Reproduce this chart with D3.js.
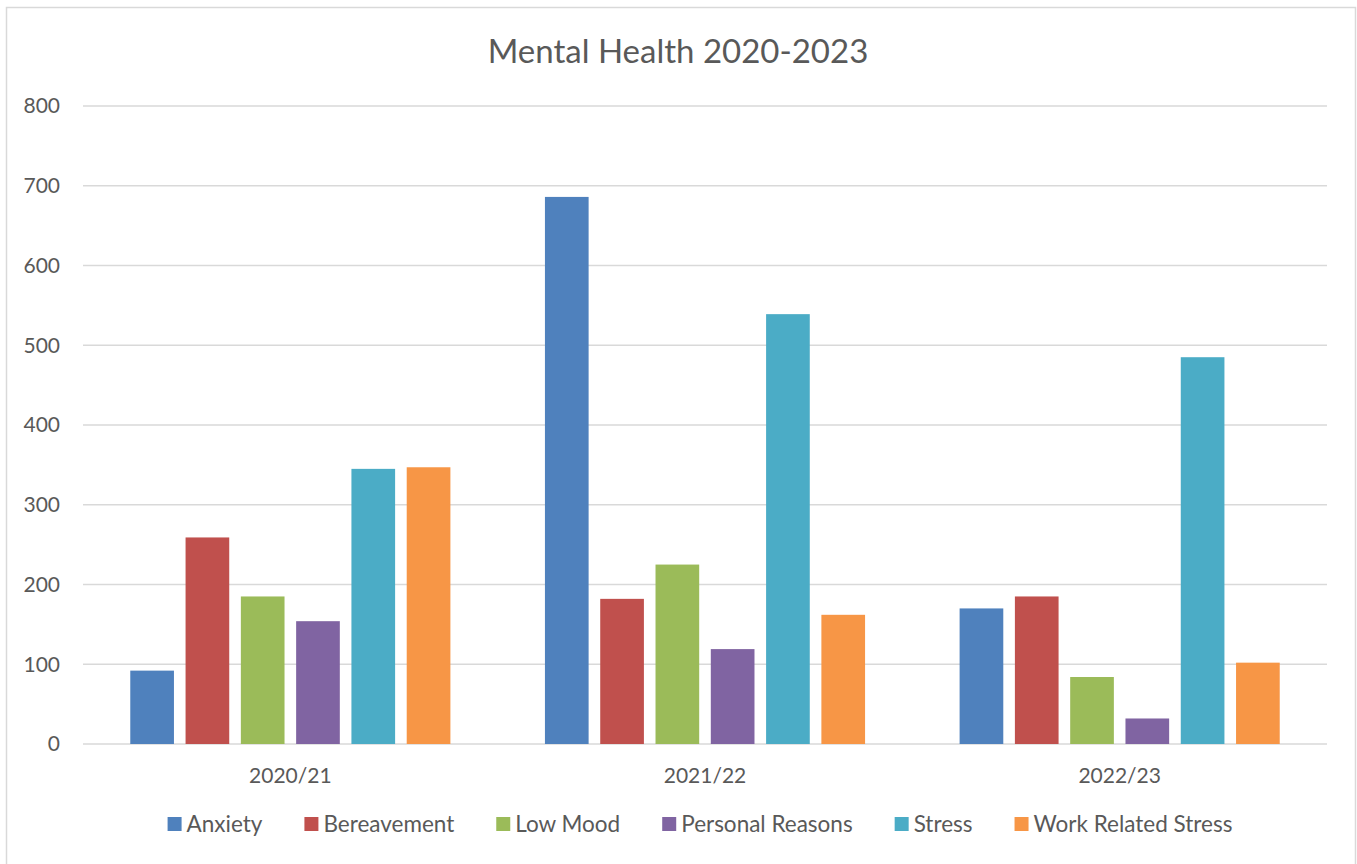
<!DOCTYPE html>
<html>
<head>
<meta charset="utf-8">
<script src="https://cdn.jsdelivr.net/npm/d3@7"></script>
<style>
  body { margin: 0; background: #fff; }
  svg { display: block; font-family: Lato, "Open Sans", sans-serif; }
</style>
</head>
<body>
<svg id="chart"></svg>
<script>
const title = "Mental Health 2020-2023";
const years = ["2020/21", "2021/22", "2022/23"];
const reasons = ["Anxiety", "Bereavement", "Low Mood", "Personal Reasons", "Stress", "Work Related Stress"];
const colours = ["#4F81BD", "#C0504D", "#9BBB59", "#8064A2", "#4BACC6", "#F79646"];
// one array per reason, in the order of years
const anxiety = [92, 686, 170];
const bereavement = [259, 182, 185];
const lowMood = [185, 225, 84];
const personalReasons = [154, 119, 32];
const stress = [345, 539, 485];
const workRelatedStress = [347, 162, 102];
const yTicks = [0, 100, 200, 300, 400, 500, 600, 700, 800];

const seriesValues = [anxiety, bereavement, lowMood, personalReasons, stress, workRelatedStress];

const width = 1357, height = 864;
const margin = { top: 106, right: 30, bottom: 120, left: 83 };
const textColour = "#595959";
const gridColour = "#D9D9D9";

const svg = d3.select("#chart").attr("width", width).attr("height", height);

// chart frame
svg.append("rect")
  .attr("x", 6.5).attr("y", 7.5)
  .attr("width", 1349).attr("height", 870)
  .attr("fill", "#fff")
  .attr("stroke", "#D9D9D9")
  .attr("stroke-width", 1.5);

const x0 = d3.scaleBand()
  .domain(years)
  .range([margin.left, width - margin.right])
  .paddingInner(0.228)
  .paddingOuter(0.114);

const x1 = d3.scaleBand()
  .domain(reasons)
  .range([0, x0.bandwidth()])
  .paddingInner(0.21);

const y = d3.scaleLinear()
  .domain([0, 800])
  .range([height - margin.bottom, margin.top]);

const colour = d3.scaleOrdinal(reasons, colours);

// gridlines
svg.append("g")
  .selectAll("line")
  .data(yTicks)
  .enter()
  .append("line")
  .attr("x1", margin.left)
  .attr("x2", width - margin.right)
  .attr("y1", d => y(d))
  .attr("y2", d => y(d))
  .attr("stroke", gridColour)
  .attr("stroke-width", 1.5);

// y tick labels
svg.append("g")
  .selectAll("text")
  .data(yTicks)
  .enter()
  .append("text")
  .attr("x", 60)
  .attr("y", d => y(d))
  .attr("dy", "0.35em")
  .attr("text-anchor", "end")
  .attr("font-size", 21)
  .attr("fill", textColour)
  .text(d => d);

// bars
const rows = [];
years.forEach((yr, i) => {
  reasons.forEach((r, j) => {
    rows.push({ year: yr, reason: r, value: seriesValues[j][i] });
  });
});

svg.append("g")
  .selectAll("rect")
  .data(rows)
  .enter()
  .append("rect")
  .attr("x", d => x0(d.year) + x1(d.reason))
  .attr("y", d => y(d.value))
  .attr("width", x1.bandwidth())
  .attr("height", d => y(0) - y(d.value))
  .attr("fill", d => colour(d.reason));

// category labels
svg.append("g")
  .selectAll("text")
  .data(years)
  .enter()
  .append("text")
  .attr("x", d => x0(d) + x0.bandwidth() / 2)
  .attr("y", 783)
  .attr("text-anchor", "middle")
  .attr("font-size", 21)
  .attr("fill", textColour)
  .text(d => d);

// title
svg.append("text")
  .attr("x", 678)
  .attr("y", 63)
  .attr("text-anchor", "middle")
  .attr("font-size", 33)
  .attr("fill", textColour)
  .text(title);

// legend
const legend = svg.append("g");
const items = legend.selectAll("g")
  .data(reasons)
  .enter()
  .append("g");

items.append("rect")
  .attr("width", 14)
  .attr("height", 14)
  .attr("y", -7)
  .attr("fill", d => colour(d));

items.append("text")
  .attr("x", 19)
  .attr("dy", "0.35em")
  .attr("font-size", 22.5)
  .attr("fill", textColour)
  .text(d => d);

let offset = 0;
const offsets = [];
items.each(function() {
  offsets.push(offset);
  const w = d3.select(this).select("text").node().getComputedTextLength();
  offset += 19 + w + 42;
});
const total = offset - 42;
const legendLeft = 700 - total / 2;
items.attr("transform", (d, i) => `translate(${legendLeft + offsets[i]},824)`);
</script>
</body>
</html>
